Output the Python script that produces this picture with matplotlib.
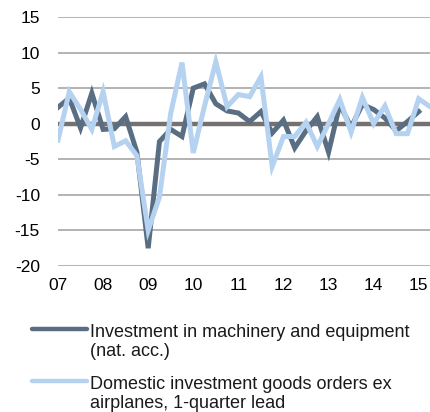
import numpy as np
import matplotlib.pyplot as plt
from matplotlib.lines import Line2D

plt.rcParams['font.family'] = ['Liberation Sans', 'DejaVu Sans']
plt.rcParams['axes.unicode_minus'] = False

# quarterly data, 2007Q1 onwards
machinery = [2.3, 3.6, -0.6, 4.3, -0.8, -0.7, 1.0, -4.0,
             -17.5, -2.5, -0.8, -1.8, 5.0, 5.6, 2.8, 1.8,
             1.5, 0.3, 1.7, -1.3, 0.5, -3.4, -1.0, 1.0,
             -4.0, 2.7, -0.5, 2.7, 2.0, 0.8, -1.0, 0.3, 1.7]
orders = [-2.3, 4.5, 2.0, -0.8, 4.5, -3.2, -2.4, -4.5,
          -15.0, -10.3, 1.5, 8.6, -4.1, 2.5, 8.7, 2.4,
          4.1, 3.8, 6.6, -6.0, -1.8, -1.8, 0.2, -3.2,
          0.0, 3.4, -1.2, 3.7, 0.0, 2.5, -1.4, -1.4, 3.5, 2.4]
year_labels = ['07', '08', '09', '10', '11', '12', '13', '14', '15']
yticks = [15, 10, 5, 0, -5, -10, -15, -20]

lab1 = 'Investment in machinery and equipment\n(nat. acc.)'
lab2 = 'Domestic investment goods orders ex\nairplanes, 1-quarter lead'

fig = plt.figure(figsize=(4.3, 4.12), dpi=100)
ax = fig.add_axes([58/430, 1-266/412, 1-58/430, (266-17)/412])

for y in yticks:
    if y == 0:
        ax.axhline(y, color='#767171', lw=3.2, zorder=1)
    else:
        ax.axhline(y, color='#a6a6a6', lw=1.2, zorder=1)

l1, = ax.plot(np.arange(len(machinery)), machinery, color='#596e83', lw=3.6,
              solid_joinstyle='miter', zorder=3)
l2, = ax.plot(np.arange(len(orders)), orders, color='#b5d3f0', lw=3.6,
              solid_joinstyle='miter', zorder=4)

ax.set_xlim(0, 33)
ax.set_ylim(-20, 15)
ax.set_yticks(yticks)
ax.set_xticks(np.arange(len(year_labels)) * 4)
ax.set_xticklabels(year_labels)
ax.tick_params(length=0, labelsize=12.5, colors='black')
ax.tick_params(axis='y', pad=13)
ax.tick_params(axis='x', pad=9)
for s in ax.spines.values():
    s.set_visible(False)

# legend drawn by hand so the key sits on the first text line
for line, lab, ypx in [(l1, lab1, 329), (l2, lab2, 381)]:
    fig.add_artist(Line2D([32/430, 87/430], [1-ypx/412, 1-ypx/412],
                          color=line.get_color(), lw=3.2,
                          solid_capstyle='round'))
    fig.text(90/430, 1-(ypx-5)/412, lab, fontsize=13, va='top', ha='left',
             color='#1a1a1a', linespacing=1.15)

fig.savefig('out.png', dpi=100)
